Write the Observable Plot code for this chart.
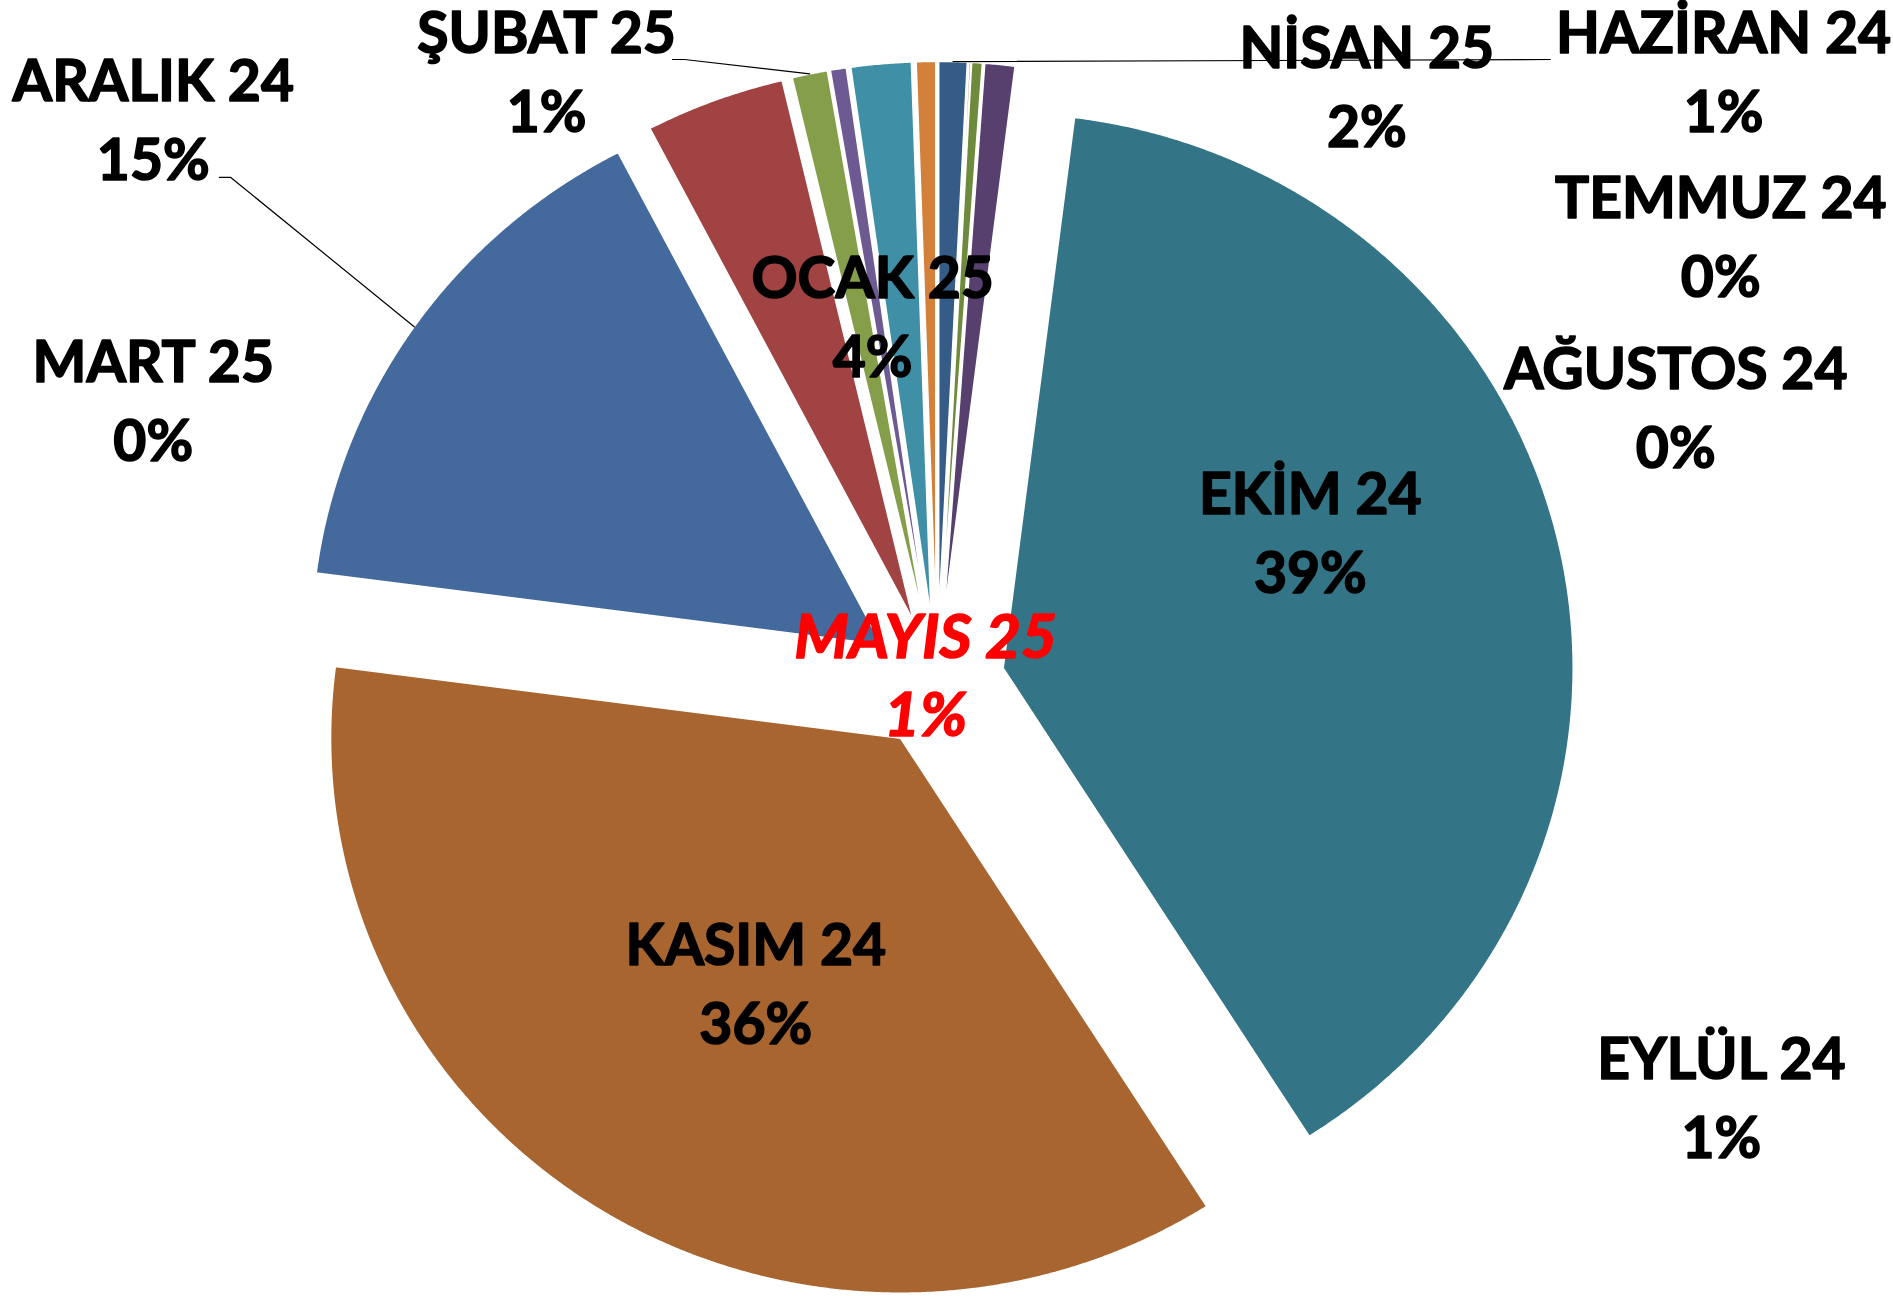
<!DOCTYPE html>
<html>
<head>
<meta charset="utf-8">
<script src="https://cdn.jsdelivr.net/npm/d3@7"></script>
<script src="https://cdn.jsdelivr.net/npm/@observablehq/plot@0.6"></script>
<style>
  html, body { margin: 0; padding: 0; background: #ffffff; }
  #chart svg { display: block; }
</style>
</head>
<body>
<div id="chart"></div>
<script>
// ---- data ----
const months = ["HAZİRAN 24", "TEMMUZ 24", "AĞUSTOS 24", "EYLÜL 24", "EKİM 24", "KASIM 24",
                "ARALIK 24", "OCAK 25", "ŞUBAT 25", "MART 25", "NİSAN 25", "MAYIS 25"];
const shares = [0.8, 0.05, 0.3, 0.85, 39.0, 36.1, 15.3, 3.95, 1.0, 0.45, 1.7, 0.55];

// ---- styles / layout ----
const colors = ["#355C87", "#A0413E", "#6E8B3D", "#573F6E", "#337586", "#A86530",
                "#446A9D", "#A04342", "#849E4A", "#6E5A93", "#3F8FA6", "#D3803A"];
const explode = 0.119;           // slice explosion, in pie radii
// label anchor (centre x, last-line baseline) in pie-radius units, y up
const labelAt = [
  [1.380, 0.991], [1.375, 0.695], [1.296, 0.387], [1.376, -0.856],
  [0.655, 0.162], [-0.318, -0.652], [-1.375, 0.906], [-0.113, 0.551],
  [-0.685, 0.991], [-1.375, 0.400], [0.754, 0.964], [-0.020, -0.097]
];
// leader line elbows (label side), they end on the slice's outer arc midpoint
const leaderFrom = {
  "ARALIK 24": [[-1.259, 0.910], [-1.239, 0.910]],
  "ŞUBAT 25": [[-0.464, 1.1225], [-0.443, 1.1225]],
  "HAZİRAN 24": [[1.076, 1.1225]]
};

// ---- geometry from data ----
const total = d3.sum(shares);
const arcs = d3.pie().sort(null).value((d, i) => shares[i])(months);

const slicePts = [];
const arcMid = {};
arcs.forEach((a, i) => {
  const name = months[i];
  const mid = (a.startAngle + a.endAngle) / 2;
  const ox = explode * Math.sin(mid), oy = explode * Math.cos(mid);
  arcMid[name] = [ox + Math.sin(mid), oy + Math.cos(mid)];
  slicePts.push({name, x: ox, y: oy});
  const n = Math.max(2, Math.ceil((a.endAngle - a.startAngle) / 0.004));
  for (let k = 0; k <= n; k++) {
    const t = a.startAngle + (a.endAngle - a.startAngle) * k / n;
    slicePts.push({name, x: ox + Math.sin(t), y: oy + Math.cos(t)});
  }
  slicePts.push({name, x: ox, y: oy});
});

const leaderPts = [];
for (const [name, pts] of Object.entries(leaderFrom)) {
  pts.forEach(p => leaderPts.push({name, x: p[0], y: p[1]}));
  leaderPts.push({name, x: arcMid[name][0], y: arcMid[name][1]});
}

const labels = months.map((m, i) => ({
  name: m,
  x: labelAt[i][0],
  y: labelAt[i][1],
  text: m + "\n" + Math.round(shares[i] / total * 100) + "%"
}));

const W = 1893, H = 1296;
const cx = 936.5, cy = 682, rx = 570, ry = 555;

const chart = Plot.plot({
  width: W,
  height: H,
  margin: 0,
  x: {domain: [-cx / rx, (W - cx) / rx], axis: null},
  y: {domain: [(cy - H) / ry, cy / ry], axis: null},
  color: {domain: months, range: colors},
  style: {background: "#ffffff", overflow: "visible"},
  marks: [
    Plot.line(slicePts, {x: "x", y: "y", z: "name", fill: "name", stroke: "#ffffff",
                         strokeWidth: 1.5, curve: "linear"}),
    Plot.line(leaderPts, {x: "x", y: "y", z: "name", stroke: "#000000", strokeWidth: 1.2}),
    Plot.text(labels.filter(d => d.name !== "MAYIS 25"), {
      x: "x", y: "y", text: "text", fill: "#000000", stroke: "#000000", strokeWidth: 1.6,
      fontFamily: "Lato", fontWeight: "bold", fontSize: 57,
      lineHeight: 1.386, lineAnchor: "bottom", textAnchor: "middle"
    }),
    Plot.text(labels.filter(d => d.name === "MAYIS 25"), {
      x: "x", y: "y", text: "text", fill: "#FF0000", stroke: "#FF0000", strokeWidth: 1.6,
      fontFamily: "Lato", fontWeight: "bold", fontStyle: "italic", fontSize: 62,
      lineHeight: 1.26, lineAnchor: "bottom", textAnchor: "middle"
    })
  ]
});
document.getElementById("chart").appendChild(chart);
</script>
</body>
</html>
